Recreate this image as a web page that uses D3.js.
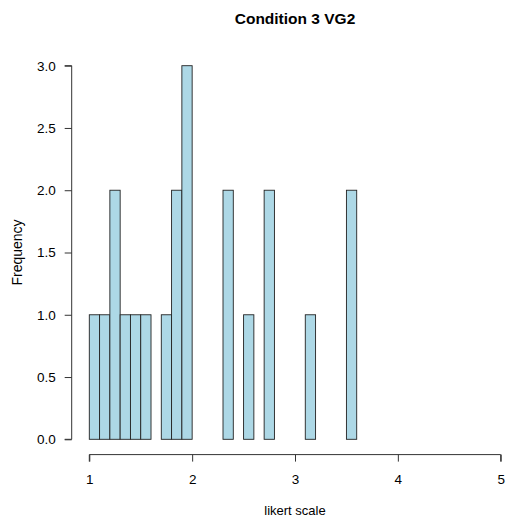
<!DOCTYPE html>
<html>
<head>
<meta charset="utf-8">
<script src="https://cdn.jsdelivr.net/npm/d3@7"></script>
<style>
  body { margin: 0; background: #fff; }
  text { font-family: "Liberation Sans", Arial, Helvetica, sans-serif; }
</style>
</head>
<body>
<div id="chart"></div>
<script>
// histogram bins (start of each bin, width 0.1) and their counts
const binStarts = [1.0, 1.1, 1.2, 1.3, 1.4, 1.5, 1.6, 1.7, 1.8, 1.9,
                   2.0, 2.1, 2.2, 2.3, 2.4, 2.5, 2.6, 2.7, 2.8, 2.9,
                   3.0, 3.1, 3.2, 3.3, 3.4, 3.5];
const counts    = [1, 1, 2, 1, 1, 1, 0, 1, 2, 3,
                   0, 0, 0, 2, 0, 1, 0, 2, 0, 0,
                   0, 1, 0, 0, 0, 2];
const binWidth = 0.1;
const xTicks = [1, 2, 3, 4, 5];
const yTicks = [0, 0.5, 1, 1.5, 2, 2.5, 3];

const W = 508, H = 520;

const x = d3.scaleLinear().domain([1, 5]).range([89.3, 500.7]);
const y = d3.scaleLinear().domain([0, 3]).range([439.3, 65.7]);

const svg = d3.select('#chart').append('svg')
  .attr('width', W)
  .attr('height', H);

// Bars
svg.selectAll('.bar')
    .data(binStarts.map((s, i) => ({ start: s, count: counts[i] })))
  .enter().append('rect')
    .attr('class', 'bar')
    .attr('x', d => x(d.start))
    .attr('y', d => y(d.count))
    .attr('width', d => x(d.start + binWidth) - x(d.start))
    .attr('height', d => y(0) - y(d.count))
    .style('fill', '#add8e6')
    .style('stroke', '#222')
    .style('stroke-width', 0.9);

// X axis
const xAxis = svg.append('g')
  .attr('transform', `translate(0,${454.6})`)
  .call(d3.axisBottom(x).tickValues(xTicks).tickFormat(d3.format('d')).tickSize(7).tickPadding(13));

// Y axis
const yAxis = svg.append('g')
  .attr('transform', 'translate(71.7,0)')
  .call(d3.axisLeft(y).tickValues(yTicks).tickFormat(d3.format('.1f')).tickSize(7).tickPadding(9));

for (let ax of [xAxis, yAxis]) {
  ax.select('.domain').attr('stroke', '#333').attr('stroke-width', 1);
  ax.selectAll('.tick line').attr('stroke', '#333');
  ax.selectAll('.tick text')
    .attr('fill', '#000')
    .attr('font-size', 13.5)
    .style('font-family', '"Liberation Sans", Arial, sans-serif');
}
// R style axis lines: no end caps past first/last tick
xAxis.select('.domain').attr('d', `M${x(1)},7V0H${x(5)}V7`);
yAxis.select('.domain').attr('d', `M-7,${y(0)}H0V${y(3)}H-7`);

// Title
svg.append('text')
  .text('Condition 3 VG2')
  .attr('x', (x(1) + x(5)) / 2)
  .attr('y', 24)
  .attr('text-anchor', 'middle')
  .attr('font-size', 15.5)
  .attr('font-weight', 'bold');

// Axis titles
svg.append('text')
  .text('likert scale')
  .attr('x', (x(1) + x(5)) / 2)
  .attr('y', 515)
  .attr('text-anchor', 'middle')
  .attr('font-size', 13);

svg.append('text')
  .text('Frequency')
  .attr('transform', `translate(22,${(y(0) + y(3)) / 2}) rotate(-90)`)
  .attr('text-anchor', 'middle')
  .attr('font-size', 14);
</script>
</body>
</html>
